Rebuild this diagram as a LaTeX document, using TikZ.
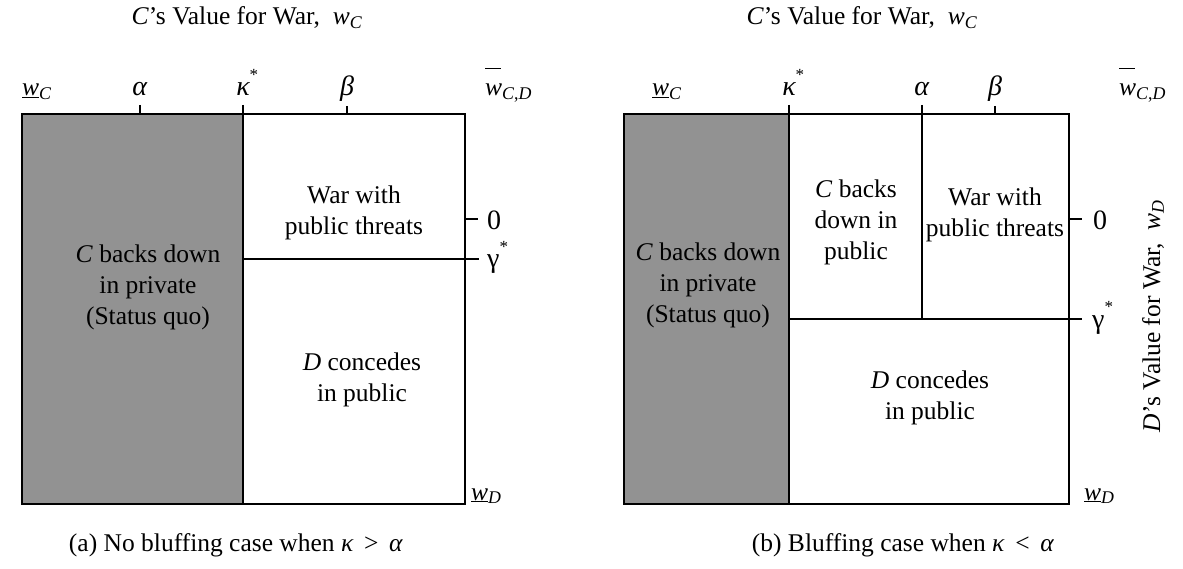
\documentclass[tikz,border=0pt]{standalone}
\usepackage{fontspec}
\setmainfont{Liberation Serif}
\definecolor{panelgrey}{RGB}{146,146,146}
\newcommand{\wlow}[1]{\underline{\textit{w}}\textsubscript{\textit{#1}}}
\newcommand{\whigh}{\leavevmode\rlap{\raisebox{1.05em}{\rule{0.6em}{1.1pt}}}\textit{w}\textsubscript{\textit{C},\textit{D}}}
\newcommand{\kstar}{{\itshape κ}\rlap{\raisebox{0.55em}{\fontsize{17}{17}\selectfont *}}}
\newcommand{\gstar}{γ\raisebox{0.55em}{\fontsize{17}{17}\selectfont *}}
\begin{document}
\begin{tikzpicture}[x=1pt,y=-1pt,
  lbl/.style={inner sep=0pt, font=\fontsize{25.5}{30}\selectfont},
  mlbl/.style={inner sep=0pt, font=\fontsize{28}{30}\selectfont},
  region/.style={inner sep=0pt, align=center, font=\fontsize{25.5}{31}\selectfont},
  frame/.style={line width=1.5pt},
  tickline/.style={line width=1.3pt}]
\useasboundingbox (0,0) rectangle (1183,569);

% ---------------- left panel ----------------
\coordinate (LTL) at (22,114);
\coordinate (LBR) at (465,504);
\coordinate (LKb) at (243,504);
\coordinate (LKtick) at (243,105);
\coordinate (LAt) at (140,105);
\coordinate (LAb) at (140,114);
\coordinate (LBt) at (347,106);
\coordinate (LBb) at (347,114);
\coordinate (LGl) at (243,259);
\coordinate (LGr) at (479,259);
\coordinate (LZl) at (465,219);
\coordinate (LZr) at (478,219);

\fill[panelgrey] (LTL) rectangle (LKb);
\draw[frame] (LTL) rectangle (LBR);
\draw[frame] (LKtick) -- (LKb);
\draw[tickline] (LAt) -- (LAb);
\draw[tickline] (LBt) -- (LBb);
\draw[frame] (LGl) -- (LGr);
\draw[tickline] (LZl) -- (LZr);

\node[lbl, anchor=base] (Ltitle) at (247,25) {\textit{C}’s Value for War, \ \textit{w}\textsubscript{\textit{C}}};
\node[lbl, anchor=base west] (LwC) at (22,96) {\wlow{C}};
\node[mlbl, anchor=base] (Lalpha) at (140,96) {\textit{α}};
\node[mlbl, anchor=base] (Lkappa) at (243,96) {\kstar};
\node[mlbl, anchor=base] (Lbeta) at (347,96) {\textit{β}};
\node[lbl, anchor=base west] (LwCD) at (485,96) {\whigh};
\node[region] (Lwar) at (354,213) {War with\\public threats};
\node[mlbl, anchor=base west] (Lzero) at (487,230) {0};
\node[mlbl, anchor=base west] (Lgamma) at (487,268) {\gstar};
\node[region] (Lgrey) at (148,287) {\textit{C} backs down\\in private\\(Status quo)};
\node[region] (Lconc) at (362,380) {\textit{D} concedes\\in public};
\node[lbl, anchor=base west] (LwD) at (471,500) {\wlow{D}};
\node[lbl, anchor=base] (Lcap) at (236,551) {(a) No bluffing case when \textit{κ} \,>\, \textit{α}};

% ---------------- right panel ----------------
\coordinate (RTL) at (624,114);
\coordinate (RBR) at (1069,504);
\coordinate (RKb) at (789,504);
\coordinate (RKtick) at (789,105);
\coordinate (RAt) at (922,105);
\coordinate (RAb) at (922,319);
\coordinate (RBt) at (995,106);
\coordinate (RBb) at (995,114);
\coordinate (RGl) at (789,319);
\coordinate (RGr) at (1082,319);
\coordinate (RZl) at (1069,219);
\coordinate (RZr) at (1082,219);

\fill[panelgrey] (RTL) rectangle (RKb);
\draw[frame] (RTL) rectangle (RBR);
\draw[frame] (RKtick) -- (RKb);
\draw[frame] (RAt) -- (RAb);
\draw[tickline] (RBt) -- (RBb);
\draw[frame] (RGl) -- (RGr);
\draw[tickline] (RZl) -- (RZr);

\node[lbl, anchor=base] (Rtitle) at (862,25) {\textit{C}’s Value for War, \ \textit{w}\textsubscript{\textit{C}}};
\node[lbl, anchor=base west] (RwC) at (652,96) {\wlow{C}};
\node[mlbl, anchor=base] (Rkappa) at (789,96) {\kstar};
\node[mlbl, anchor=base] (Ralpha) at (922,96) {\textit{α}};
\node[mlbl, anchor=base] (Rbeta) at (995,96) {\textit{β}};
\node[lbl, anchor=base west] (RwCD) at (1119,96) {\whigh};
\node[region] (Rback) at (856,222) {\textit{C} backs\\down in\\public};
\node[region] (Rwar) at (995,215) {War with\\public threats};
\node[mlbl, anchor=base west] (Rzero) at (1093,230) {0};
\node[mlbl, anchor=base west] (Rgamma) at (1092,328) {\gstar};
\node[region] (Rgrey) at (708,285) {\textit{C} backs down\\in private\\(Status quo)};
\node[region] (Rconc) at (930,398) {\textit{D} concedes\\in public};
\node[lbl, anchor=base west] (RwD) at (1084,500) {\wlow{D}};
\node[lbl, rotate=90] (Rylab) at (1153,316) {\textit{D}’s Value for War, \ \textit{w}\textsubscript{\textit{D}}};
\node[lbl, anchor=base] (Rcap) at (903,551) {(b) Bluffing case when \textit{κ} \,<\, \textit{α}};
\end{tikzpicture}
\end{document}
